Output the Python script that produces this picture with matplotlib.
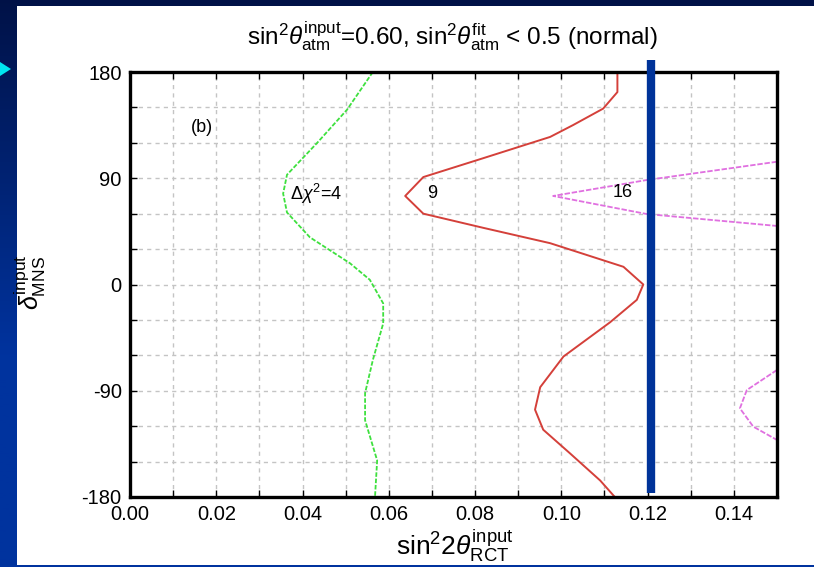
import numpy as np
import matplotlib
matplotlib.use('Agg')
import matplotlib.pyplot as plt
from matplotlib.patches import Rectangle, Polygon
from matplotlib.ticker import MultipleLocator

plt.rcParams['font.family'] = ['Liberation Sans', 'DejaVu Sans']
plt.rcParams['mathtext.fontset'] = 'custom'
plt.rcParams['mathtext.rm'] = 'Liberation Sans'
plt.rcParams['mathtext.it'] = 'Liberation Sans:italic'
plt.rcParams['axes.unicode_minus'] = False

# Delta chi^2 = 4 contour (sin^2 2theta_RCT, delta_MNS)
CHI4_X = [0.0563, 0.0503, 0.0434, 0.0364, 0.0355, 0.0364, 0.0417, 0.0510,
          0.0556, 0.0587, 0.0587, 0.0563, 0.0545, 0.0545, 0.0573, 0.0568]
CHI4_Y = [180, 148, 120, 93, 77, 61, 40, 18,
          4, -16, -33, -64, -92, -115, -149, -180]

# Delta chi^2 = 9 contour
CHI9_X = [0.1130, 0.1130, 0.1097, 0.1027, 0.0974, 0.0819, 0.0680, 0.0638,
          0.0680, 0.0819, 0.0974, 0.1144, 0.1190, 0.1175, 0.1113, 0.1005,
          0.0951, 0.0939, 0.0958, 0.1020, 0.1090, 0.1124]
CHI9_Y = [180, 163, 149, 135, 125, 107, 91, 75,
          60, 48, 35, 15, 0, -13, -32, -61,
          -87, -106, -123, -143, -166, -180]

# Delta chi^2 = 16 contour, two pieces entering from the right edge
CHI16A_X = [0.150, 0.1198, 0.0981, 0.1198, 0.150]
CHI16A_Y = [104, 88.5, 75, 59.7, 49.6]
CHI16B_X = [0.150, 0.1430, 0.1414, 0.1445, 0.150]
CHI16B_Y = [-72.4, -89.4, -104.9, -120.4, -131.7]

THETA13_MARK = 0.1208

W, H = 814, 567
fig = plt.figure(figsize=(W / 100, H / 100), dpi=100)

# slide background: dark navy at the top fading to royal blue
bg = fig.add_axes([0, 0, 1, 1], zorder=-10)
grad = np.linspace(0, 1, 256).reshape(-1, 1)
top = np.array([0.0, 0.07, 0.28])
bottom = np.array([0.0, 0.20, 0.62])
img = top + (bottom - top) * np.clip(grad * 1.6, 0, 1)[..., None]
bg.imshow(img, aspect='auto', extent=[0, 1, 0, 1], origin='upper')
bg.set_axis_off()

# white panel holding the plot
fig.patches.append(Rectangle((17 / W, 2 / H), 1 - 17 / W, 559 / H,
                             transform=fig.transFigure, facecolor='white',
                             edgecolor='none', zorder=-5))
# bullet arrow at the left edge
fig.patches.append(Polygon([(0, 1 - 62 / H), (11 / W, 1 - 69 / H), (0, 1 - 76 / H)],
                           closed=True, transform=fig.transFigure,
                           facecolor='#00e6f0', edgecolor='none', zorder=-4))

ax = fig.add_axes([130 / W, 70 / H, 647 / W, 425 / H])
ax.set_xlim(0, 0.15)
ax.set_ylim(-180, 180)

ax.xaxis.set_minor_locator(MultipleLocator(0.01))
ax.yaxis.set_minor_locator(MultipleLocator(30))
ax.set_xticks(np.arange(0, 0.141, 0.02))
ax.set_xticklabels([f'{v:.2f}' for v in np.arange(0, 0.141, 0.02)])
ax.set_yticks([-180, -90, 0, 90, 180])
ax.tick_params(which='both', direction='in', top=True, right=True,
               length=5, width=1.0, labelsize=14.5, pad=6)
ax.grid(which='both', color='#c4c4c4', linestyle=(0, (3, 3)), linewidth=1.0)
ax.set_axisbelow(True)
for s in ax.spines.values():
    s.set_linewidth(2.4)

ax.plot(CHI4_X, CHI4_Y, color='#3ee03e', lw=1.3, linestyle=(0, (2.5, 1)))
ax.plot(CHI9_X, CHI9_Y, color='#d4403a', lw=1.4)
ax.plot(CHI16A_X, CHI16A_Y, color='#e070e0', lw=1.3, linestyle=(0, (3, 1)))
ax.plot(CHI16B_X, CHI16B_Y, color='#e070e0', lw=1.3, linestyle=(0, (3, 1)))

ax.text(0.0372, 77, r'$\mathit{\Delta\chi}^2$=4', fontsize=13, va='center')
ax.text(0.0688, 77, '9', fontsize=13, va='center')
ax.text(0.1120, 78, '16', fontsize=13, va='center')
ax.text(0.0140, 133, '(b)', fontsize=13, va='center')

# thick vertical marker at the reference value
ax.plot([THETA13_MARK, THETA13_MARK], [190.5, -176.5], color='#003399',
        lw=6, solid_capstyle='butt', clip_on=False, zorder=5)

fig.text(452 / W, 1 - 36 / H,
         r'sin$^2\theta_{\rm atm}^{\rm input}$=0.60, sin$^2\theta_{\rm atm}^{\rm fit}$ < 0.5 (normal)',
         ha='center', va='center', fontsize=17.5)
fig.text(455 / W, 1 - 546 / H, r'sin$^2$2$\theta_{\rm RCT}^{\rm input}$',
         ha='center', va='center', fontsize=19)
fig.text(30 / W, 1 - 282 / H, r'$\delta_{\rm MNS}^{\rm input}$',
         ha='center', va='center', rotation=90, fontsize=18)

fig.savefig('out.png', dpi=100)
